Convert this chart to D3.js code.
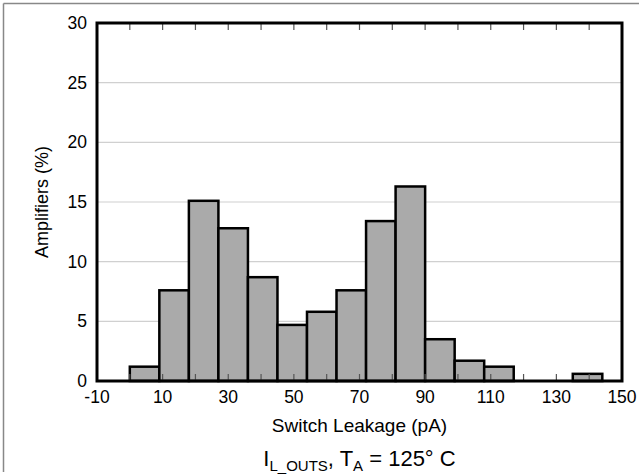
<!DOCTYPE html>
<html>
<head>
<meta charset="utf-8">
<script src="https://cdn.jsdelivr.net/npm/d3@7"></script>
<style>
  body { margin: 0; background: #fff; }
  text { font-family: "Liberation Sans", Arial, sans-serif; fill: #000; }
</style>
</head>
<body>
<div id="chart"></div>
<script>
// bin start (pA) and share of amplifiers (%), 9 pA bins
const binStarts = [0, 9, 18, 27, 36, 45, 54, 63, 72, 81, 90, 99, 108, 117, 126, 135];
const amplifiers = [1.2, 7.6, 15.1, 12.8, 8.7, 4.7, 5.8, 7.6, 13.4, 16.3, 3.5, 1.7, 1.2, 0, 0, 0.6];
const binWidth = 9;
const xTickLabels = [-10, 10, 30, 50, 70, 90, 110, 130, 150];
const xMinorTicks = [0, 10, 20, 30, 40, 50, 60, 70, 80, 90, 100, 110, 120, 130, 140];
const yTicks = [0, 5, 10, 15, 20, 25, 30];

const W = 639, H = 474;
const m = { left: 97, top: 23, right: 17, bottom: 93 };
const w = W - m.left - m.right, h = H - m.top - m.bottom;

const svg = d3.select("#chart").append("svg")
  .attr("width", W).attr("height", H);

// outer frame lines (top and left only)
svg.append("line").attr("x1", 3.5).attr("x2", W).attr("y1", 3.5).attr("y2", 3.5)
  .attr("stroke", "#888").attr("stroke-width", 1.5);
svg.append("line").attr("x1", 3.5).attr("x2", 3.5).attr("y1", 3.5).attr("y2", 472)
  .attr("stroke", "#888").attr("stroke-width", 1.5);

const g = svg.append("g").attr("transform", `translate(${m.left},${m.top})`);

const x = d3.scaleLinear().domain([-10, 150]).range([0, w]);
const y = d3.scaleLinear().domain([0, 30]).range([h, 0]);

// gridlines
g.selectAll(".grid").data(yTicks.slice(1, -1)).enter().append("line")
  .attr("x1", 0).attr("x2", w)
  .attr("y1", d => y(d)).attr("y2", d => y(d))
  .attr("stroke", "#d0d0d0").attr("stroke-width", 1.2);

// bars
const bars = binStarts.map((s, i) => ({ start: s, value: amplifiers[i] })).filter(d => d.value > 0);
g.selectAll("rect.bar").data(bars).enter().append("rect")
  .attr("class", "bar")
  .attr("x", d => x(d.start))
  .attr("width", d => x(d.start + binWidth) - x(d.start))
  .attr("y", d => y(d.value))
  .attr("height", d => y(0) - y(d.value))
  .attr("fill", "#aaaaaa")
  .attr("stroke", "#000")
  .attr("stroke-width", 2.5);

// minor ticks inside, top and bottom
g.selectAll(".ttop").data(xMinorTicks).enter().append("line")
  .attr("x1", d => x(d)).attr("x2", d => x(d))
  .attr("y1", 0).attr("y2", 7)
  .attr("stroke", "#555").attr("stroke-width", 1.2);
g.selectAll(".tbot").data(xMinorTicks).enter().append("line")
  .attr("x1", d => x(d)).attr("x2", d => x(d))
  .attr("y1", h).attr("y2", h - 7)
  .attr("stroke", "#555").attr("stroke-width", 1.2);

// axis frame
g.append("rect").attr("x", 0).attr("y", 0).attr("width", w).attr("height", h)
  .attr("fill", "none").attr("stroke", "#000").attr("stroke-width", 3);

// tick labels
g.selectAll(".xl").data(xTickLabels).enter().append("text")
  .attr("x", d => x(d)).attr("y", h + 22)
  .attr("text-anchor", "middle").attr("font-size", 17.5)
  .text(d => d);
g.selectAll(".yl").data(yTicks).enter().append("text")
  .attr("x", -10).attr("y", d => y(d) + 6)
  .attr("text-anchor", "end").attr("font-size", 17.5)
  .text(d => d);

// axis titles
g.append("text")
  .attr("x", w / 2).attr("y", h + 51)
  .attr("text-anchor", "middle").attr("font-size", 19)
  .text("Switch Leakage (pA)");

svg.append("text")
  .attr("transform", `translate(48,${m.top + h / 2}) rotate(-90)`)
  .attr("text-anchor", "middle").attr("font-size", 18)
  .text("Amplifiers (%)");

const cap = g.append("text")
  .attr("x", w / 2).attr("y", h + 85)
  .attr("text-anchor", "middle").attr("font-size", 22);
cap.append("tspan").text("I");
cap.append("tspan").attr("font-size", 15).attr("dy", 5).text("L_OUTS");
cap.append("tspan").attr("dy", -5).text(", T");
cap.append("tspan").attr("font-size", 15).attr("dy", 5).text("A");
cap.append("tspan").attr("dy", -5).text(" = 125° C");
</script>
</body>
</html>
